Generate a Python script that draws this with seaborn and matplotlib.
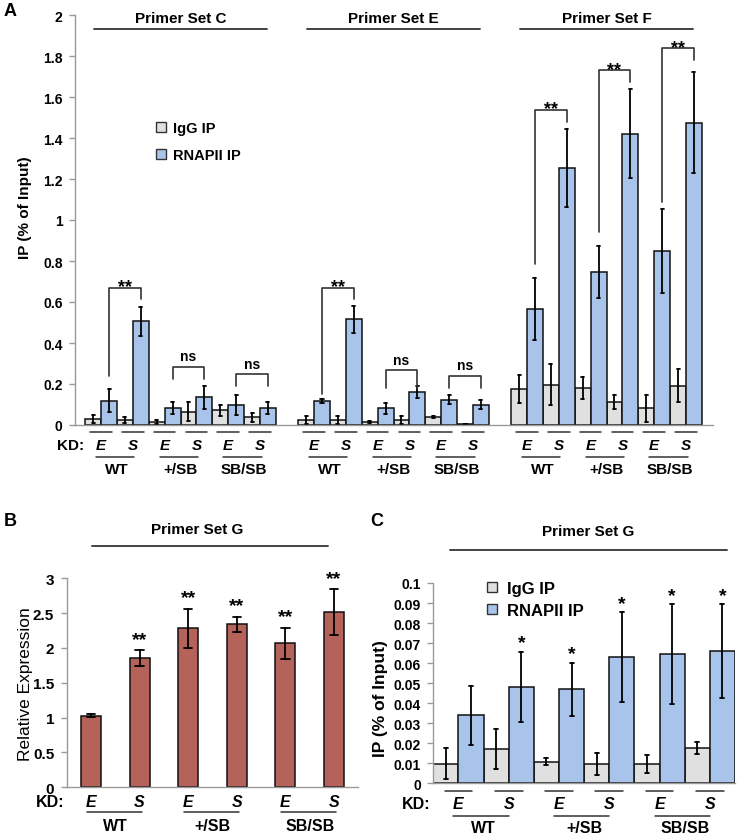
import numpy as np
import pandas as pd
import matplotlib
matplotlib.use("Agg")
import matplotlib.pyplot as plt
import seaborn as sns
from matplotlib.patches import Patch

sns.set_theme(style="white", rc={"text.color": "black", "axes.labelcolor": "black",
                                 "xtick.color": "black", "ytick.color": "black"})
plt.rcParams["font.family"] = ["Liberation Sans", "DejaVu Sans"]
plt.rcParams["font.weight"] = "bold"

# ------------------------------------------------------------------ data
genotypes = ["WT", "+/SB", "SB/SB"]
kd_labels = ["E", "S"]
antibodies = ["IgG IP", "RNAPII IP"]
primer_sets_A = ["Primer Set C", "Primer Set E", "Primer Set F"]

# Panel A, order per set: WT-E, WT-S, +/SB-E, +/SB-S, SB/SB-E, SB/SB-S
a_igg_C = [0.030, 0.024, 0.013, 0.065, 0.073, 0.037]
a_igg_C_err = [0.020, 0.013, 0.010, 0.045, 0.027, 0.020]
a_pol_C = [0.119, 0.505, 0.083, 0.135, 0.099, 0.083]
a_pol_C_err = [0.057, 0.073, 0.027, 0.055, 0.049, 0.027]

a_igg_E = [0.025, 0.025, 0.013, 0.026, 0.040, 0.004]
a_igg_E_err = [0.020, 0.020, 0.005, 0.020, 0.005, 0.001]
a_pol_E = [0.119, 0.515, 0.081, 0.160, 0.124, 0.098]
a_pol_E_err = [0.010, 0.065, 0.025, 0.028, 0.020, 0.022]

a_igg_F = [0.176, 0.197, 0.181, 0.111, 0.081, 0.192]
a_igg_F_err = [0.068, 0.100, 0.055, 0.033, 0.067, 0.079]
a_pol_F = [0.567, 1.255, 0.746, 1.421, 0.848, 1.474]
a_pol_F_err = [0.152, 0.190, 0.125, 0.217, 0.204, 0.247]

# Panel A significance brackets (set index, genotype index, top, left end, right end, label)
br_set = [0, 0, 0, 1, 1, 1, 2, 2, 2]
br_geno = [0, 1, 2, 0, 1, 2, 0, 1, 2]
br_top = [0.669, 0.285, 0.249, 0.669, 0.269, 0.241, 1.539, 1.731, 1.837]
br_left_end = [0.241, 0.225, 0.192, 0.150, 0.179, 0.179, 0.787, 0.941, 1.088]
br_right_end = [0.616, 0.225, 0.192, 0.616, 0.179, 0.179, 1.480, 1.674, 1.780]
br_label = ["**", "ns", "ns", "**", "ns", "ns", "**", "**", "**"]

# Panel B
b_expr = [1.027, 1.855, 2.280, 2.338, 2.066, 2.510]
b_err = [0.020, 0.110, 0.280, 0.110, 0.225, 0.330]
b_marks = ["", "**", "**", "**", "**", "**"]

# Panel C
c_igg = [0.0098, 0.0171, 0.0107, 0.0097, 0.0097, 0.0176]
c_igg_err = [0.0078, 0.0099, 0.0018, 0.0055, 0.0044, 0.0030]
c_pol = [0.0340, 0.0482, 0.0470, 0.0630, 0.0645, 0.0660]
c_pol_err = [0.0148, 0.0176, 0.0133, 0.0225, 0.0248, 0.0234]
c_marks = ["", "*", "*", "*", "*", "*"]

# ------------------------------------------------------------------ style
GRAY = "#e0e0e0"
BLUE = "#a8c4ea"
RED = "#b5625b"
EDGE = "#111111"
SPINE = "#9a9a9a"
LINE = "#333333"
SET_GAP = 6.7


def span(v):
    return (v.min(), v.max())


def style_axis(ax, labelsize):
    sns.despine(ax=ax)
    for side in ["left", "bottom"]:
        ax.spines[side].set_color(SPINE)
        ax.spines[side].set_linewidth(1.0)
    ax.tick_params(axis="y", which="both", left=True, length=4, width=1,
                   color=SPINE, direction="out", labelsize=labelsize, pad=5)
    ax.set_xticks([])
    ax.set_xlabel("")


fig = plt.figure(figsize=(7.37, 8.37), dpi=100)
W, H = 737, 837

# ================================================================ Panel A
axA = fig.add_axes([75 / W, 1 - 426 / H, 638 / W, 410 / H])
recs = []
setsA = [(a_igg_C, a_igg_C_err, a_pol_C, a_pol_C_err),
         (a_igg_E, a_igg_E_err, a_pol_E, a_pol_E_err),
         (a_igg_F, a_igg_F_err, a_pol_F, a_pol_F_err)]
for s, (ig, ige, po, poe) in enumerate(setsA):
    for i in range(6):
        pos = round(s * SET_GAP + i, 3)
        for ab, v, e in [(antibodies[0], ig[i], ige[i]), (antibodies[1], po[i], poe[i])]:
            for val in (v - e, v + e):
                recs.append(dict(pos=pos, ab=ab, val=val))
dfA = pd.DataFrame(recs)
sns.barplot(data=dfA, x="pos", y="val", hue="ab", hue_order=antibodies,
            palette=[GRAY, BLUE], native_scale=True, width=1.0,
            estimator="mean", errorbar=span, capsize=0.19,
            err_kws=dict(color="black", linewidth=1.3),
            edgecolor=EDGE, linewidth=1.1, saturation=1, ax=axA, legend=False)
axA.set_ylim(0, 2)
axA.set_xlim(-0.82, 19.25)
axA.set_yticks(np.arange(0, 2.001, 0.2))
axA.set_yticklabels([f"{t:g}" for t in np.arange(0, 2.001, 0.2)])
style_axis(axA, 10)
axA.set_ylabel("IP (% of Input)", fontsize=11, fontweight="bold")
axA.yaxis.set_label_coords(-0.068, 0.532)

handles = [Patch(facecolor=GRAY, edgecolor="#333333", linewidth=1.0),
           Patch(facecolor=BLUE, edgecolor="#333333", linewidth=1.0)]
axA.legend(handles, antibodies, loc="upper left", bbox_to_anchor=(0.127, 0.742),
           frameon=False, handlelength=0.7, handleheight=0.7,
           handletextpad=0.45, labelspacing=0.9, borderpad=0, borderaxespad=0,
           prop={"weight": "bold", "size": 10.5})

trA = axA.get_xaxis_transform()
for s in range(3):
    cen = s * SET_GAP + 2.5
    axA.plot([cen - 2.72, cen + 2.72], [0.966, 0.966], transform=trA, color=LINE,
             lw=1.3, clip_on=False)
    axA.text(cen, 0.993, primer_sets_A[s], transform=trA, ha="center", va="center",
             fontsize=11, fontweight="bold")
    for g in range(3):
        cE = s * SET_GAP + 2 * g
        for k in range(2):
            c = cE + k
            axA.plot([c - 0.34, c + 0.34], [-0.017, -0.017], transform=trA,
                     color=LINE, lw=1.1, clip_on=False)
            axA.text(c, -0.049, kd_labels[k], transform=trA, ha="center", va="center",
                     fontsize=11, fontweight="bold", style="italic")
        axA.plot([cE - 0.15, cE + 1.05], [-0.077, -0.077], transform=trA,
                 color=LINE, lw=1.1, clip_on=False)
        axA.text(cE + 0.5, -0.107, genotypes[g], transform=trA, ha="center",
                 va="center", fontsize=11, fontweight="bold")
axA.text(-0.007, -0.049, "KD:", transform=axA.transAxes, ha="center", va="center",
         fontsize=11, fontweight="bold")

for s, g, top, le, re, lab in zip(br_set, br_geno, br_top, br_left_end,
                                  br_right_end, br_label):
    xl = s * SET_GAP + 2 * g + 0.25
    xr = xl + 1.0
    axA.plot([xl, xl, xr, xr], [le, top, top, re], color=LINE, lw=1.2)
    if lab == "ns":
        axA.annotate(lab, xy=((xl + xr) / 2, top), xytext=(0, 4.4),
                     textcoords="offset points", ha="center", va="baseline",
                     fontsize=10, fontweight="bold")
    else:
        axA.annotate(lab, xy=((xl + xr) / 2, top), xytext=(0, -2.5),
                     textcoords="offset points", ha="center", va="baseline",
                     fontsize=13, fontweight="bold")

fig.text(10 / W, 1 - 12 / H, "A", ha="center", va="center", fontsize=13,
         fontweight="bold")

# ================================================================ Panel B
axB = fig.add_axes([66.7 / W, 1 - 788.3 / H, 291.6 / W, 209 / H])
catsB = [f"{g} {k}" for g in genotypes for k in kd_labels]
recsB = []
for i, c in enumerate(catsB):
    for val in (b_expr[i] - b_err[i], b_expr[i] + b_err[i]):
        recsB.append(dict(cat=c, val=val))
dfB = pd.DataFrame(recsB)
sns.barplot(data=dfB, x="cat", y="val", order=catsB, color=RED, width=0.41,
            estimator="mean", errorbar=span, capsize=0.17,
            err_kws=dict(color="black", linewidth=1.3),
            edgecolor=EDGE, linewidth=1.1, saturation=1, ax=axB)
axB.set_ylim(0, 3)
axB.set_xlim(-0.5, 5.5)
axB.set_yticks(np.arange(0, 3.001, 0.5))
axB.set_yticklabels([f"{t:g}" for t in np.arange(0, 3.001, 0.5)])
style_axis(axB, 11)
axB.set_ylabel("Relative Expression", fontsize=12.5, fontweight="normal")
axB.yaxis.set_label_coords(-0.115, 0.499)
for i, m in enumerate(b_marks):
    if m:
        axB.annotate(m, xy=(i, b_expr[i] + b_err[i]), xytext=(0, 4.7),
                     textcoords="offset points", ha="center", va="baseline",
                     fontsize=14, fontweight="bold")
trB = axB.get_xaxis_transform()
for g in range(3):
    cE = 2 * g
    for k in range(2):
        axB.text(cE + k, -0.070, kd_labels[k], transform=trB, ha="center",
                 va="center", fontsize=11.5, fontweight="bold", style="italic")
    axB.plot([cE - 0.09, cE + 1.04], [-0.120, -0.120], transform=trB, color=LINE,
             lw=1.1, clip_on=False)
    axB.text(cE + 0.5, -0.184, genotypes[g], transform=trB, ha="center",
             va="center", fontsize=11.5, fontweight="bold")
axB.text(-0.057, -0.070, "KD:", transform=axB.transAxes, ha="center", va="center",
         fontsize=11.5, fontweight="bold")
axB.plot([0.0857, 0.897], [1.156, 1.156], transform=axB.transAxes, color=LINE,
         lw=1.3, clip_on=False)
axB.text(0.446, 1.236, "Primer Set G", transform=axB.transAxes, ha="center",
         va="center", fontsize=11, fontweight="bold")
fig.text(10 / W, 1 - 522 / H, "B", ha="center", va="center", fontsize=13,
         fontweight="bold")

# ================================================================ Panel C
axC = fig.add_axes([433.3 / W, 1 - 784.3 / H, 301.7 / W, 200.3 / H])
recsC = []
for i, c in enumerate(catsB):
    for ab, v, e in [(antibodies[0], c_igg[i], c_igg_err[i]),
                     (antibodies[1], c_pol[i], c_pol_err[i])]:
        for val in (v - e, v + e):
            recsC.append(dict(cat=c, ab=ab, val=val))
dfC = pd.DataFrame(recsC)
sns.barplot(data=dfC, x="cat", y="val", hue="ab", order=catsB, hue_order=antibodies,
            palette=[GRAY, BLUE], width=1.0, estimator="mean", errorbar=span,
            capsize=0.16, err_kws=dict(color="black", linewidth=1.3),
            edgecolor=EDGE, linewidth=1.1, saturation=1, ax=axC, legend=False)
axC.set_ylim(0, 0.1)
axC.set_xlim(-0.5, 5.5)
ticksC = np.round(np.arange(0, 0.1001, 0.01), 2)
axC.set_yticks(ticksC)
axC.set_yticklabels([f"{t:g}" for t in ticksC])
style_axis(axC, 10)
axC.set_ylabel("IP (% of Input)", fontsize=12.5, fontweight="bold")
axC.yaxis.set_label_coords(-0.15, 0.43)
axC.legend(handles, antibodies, loc="upper left", bbox_to_anchor=(0.178, 1.01),
           frameon=False, handlelength=0.6, handleheight=0.6, handletextpad=0.6,
           labelspacing=0.42, borderpad=0, borderaxespad=0,
           prop={"weight": "bold", "size": 12})
for i, m in enumerate(c_marks):
    if m:
        axC.annotate(m, xy=(i + 0.25, c_pol[i] + c_pol_err[i]), xytext=(0, 3.2),
                     textcoords="offset points", ha="center", va="baseline",
                     fontsize=14, fontweight="bold")
trC = axC.get_xaxis_transform()
for g in range(3):
    cE = 2 * g
    for k in range(2):
        c = cE + k
        axC.plot([c - 0.275, c + 0.275], [-0.040, -0.040], transform=trC, color=LINE,
                 lw=1.1, clip_on=False)
        axC.text(c, -0.103, kd_labels[k], transform=trC, ha="center", va="center",
                 fontsize=11.5, fontweight="bold", style="italic")
    axC.plot([cE - 0.1, cE + 1.0], [-0.162, -0.162], transform=trC, color=LINE,
             lw=1.1, clip_on=False)
    axC.text(cE + 0.5, -0.221, genotypes[g], transform=trC, ha="center",
             va="center", fontsize=11.5, fontweight="bold")
axC.text(-0.058, -0.103, "KD:", transform=axC.transAxes, ha="center", va="center",
         fontsize=11.5, fontweight="bold")
axC.plot([0.055, 0.972], [1.166, 1.166], transform=axC.transAxes, color=LINE,
         lw=1.3, clip_on=False)
axC.text(0.514, 1.261, "Primer Set G", transform=axC.transAxes, ha="center",
         va="center", fontsize=11, fontweight="bold")
fig.text(377 / W, 1 - 522 / H, "C", ha="center", va="center", fontsize=13,
         fontweight="bold")

fig.savefig("out.png", dpi=100, facecolor="white")
